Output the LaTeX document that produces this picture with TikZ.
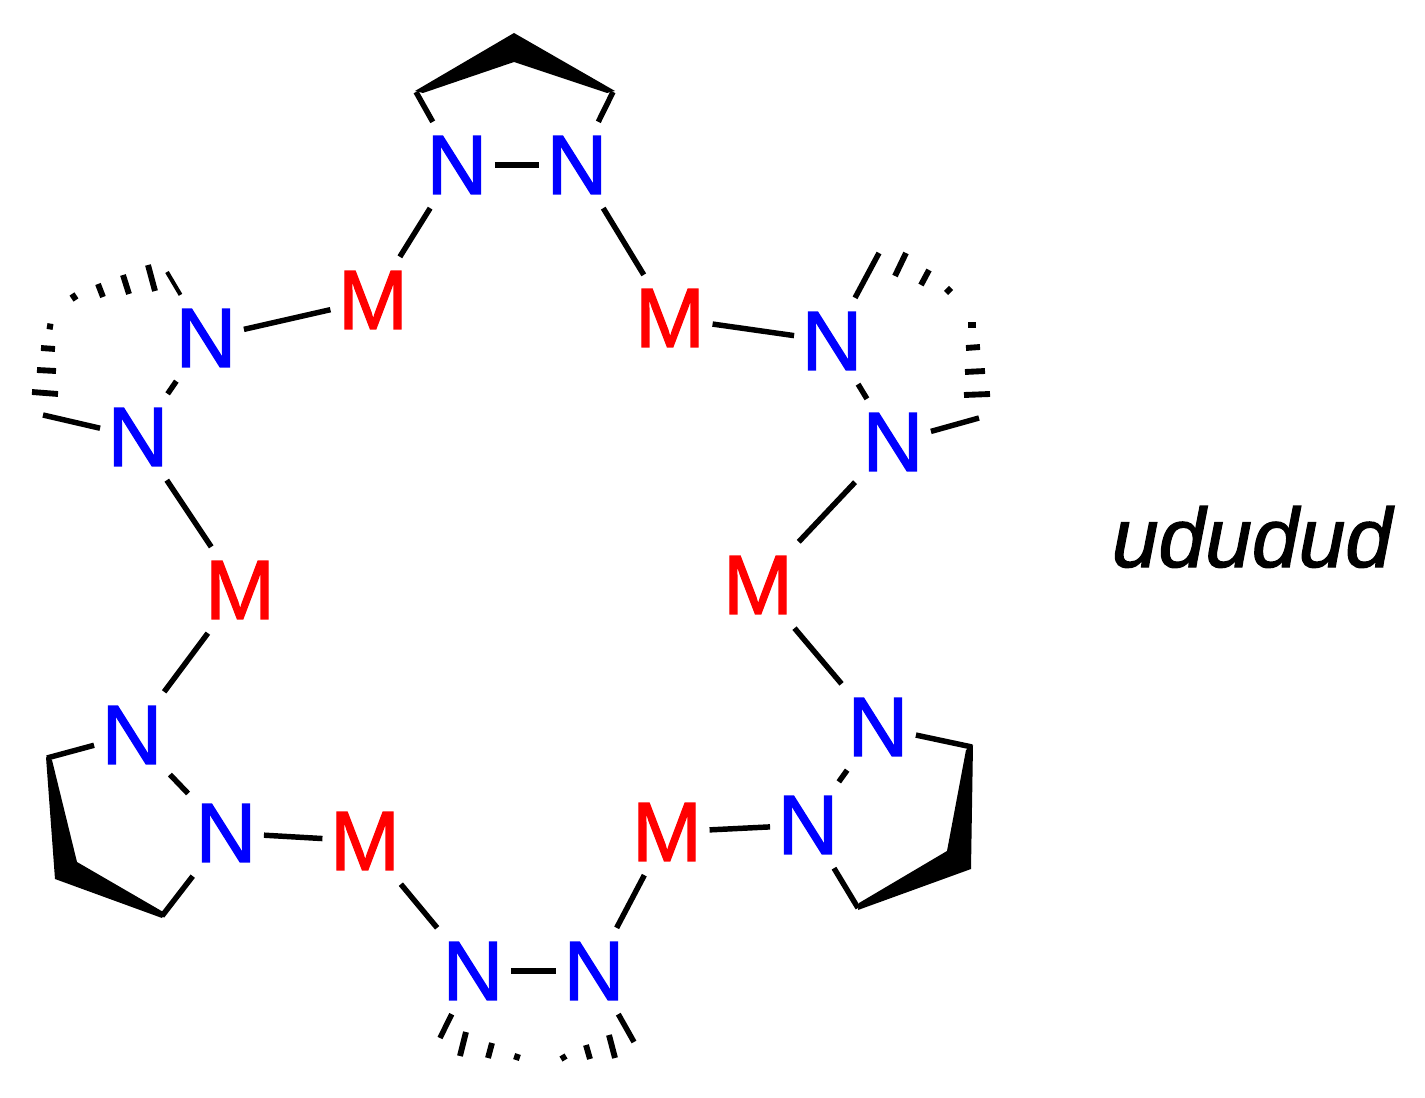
\documentclass[tikz,border=0pt]{standalone}
\usepackage{fontspec}
\setmainfont{Liberation Sans}
\newfontfamily\chemfont[FakeBold=1.5]{Liberation Sans}
\tikzset{
  atomlabel/.style={inner xsep=5.5pt,inner ysep=10.5pt,font=\chemfont\fontsize{63}{70}\selectfont},
  metal/.style={atomlabel,text={rgb,255:red,255;green,0;blue,0}},
  nitrogen/.style={atomlabel,text={rgb,255:red,0;green,0;blue,255}},
  bond/.style={line width=4.1pt},
  hashbar/.style={line width=4.4pt},
  wedgebond/.style={fill=black}
}
\begin{document}
\begin{tikzpicture}[x=0.75pt,y=0.75pt,yscale=-1,xscale=1]
        \useasboundingbox (0,0) rectangle (1425,1098);
        % Metal labels
        \node [metal] (mTL) at (373,300) {M};
        \node [metal] (mTR) at (670,318) {M};
        \node [metal] (mL) at (240,590) {M};
        \node [metal] (mR) at (758,585) {M};
        \node [metal] (mBL) at (365,841) {M};
        \node [metal] (mBR) at (667,832) {M};
        % Nitrogen labels
        \node [nitrogen] (nTa) at (457,165) {N};
        \node [nitrogen] (nTb) at (577,165) {N};
        \node [nitrogen] (nRUa) at (832,341) {N};
        \node [nitrogen] (nRUb) at (893,442) {N};
        \node [nitrogen] (nRLa) at (878,727) {N};
        \node [nitrogen] (nRLb) at (808,825) {N};
        \node [nitrogen] (nBa) at (473,971) {N};
        \node [nitrogen] (nBb) at (594,971) {N};
        \node [nitrogen] (nLLa) at (132,735) {N};
        \node [nitrogen] (nLLb) at (226,833) {N};
        \node [nitrogen] (nLUa) at (206,338) {N};
        \node [nitrogen] (nLUb) at (138,437) {N};
        % Sequence label
        \node [font=\chemfont\fontsize{63}{70}\selectfont\itshape] (seqlabel) at (1252,537) {ududud};
        % Ring carbons
        \coordinate (cTa) at (416,92);
        \coordinate (cTb) at (514,37);
        \coordinate (cTc) at (613,92);
        \coordinate (cRUa) at (879,253);
        \coordinate (cRUb) at (979,418);
        \coordinate (cRLa) at (972,747);
        \coordinate (cRLb) at (858,908);
        \coordinate (cBa) at (440,1038);
        \coordinate (cBb) at (634,1042);
        \coordinate (cLLa) at (47,758);
        \coordinate (cLLb) at (162,916);
        \coordinate (cLUa) at (167,272);
        \coordinate (cLUb) at (43,415);
        % Metal to nitrogen bonds
        \draw [bond] (mTL) -- (nTa);
        \draw [bond] (nTb) -- (mTR);
        \draw [bond] (mTR) -- (nRUa);
        \draw [bond] (nRUb) -- (mR);
        \draw [bond] (mR) -- (nRLa);
        \draw [bond] (nRLb) -- (mBR);
        \draw [bond] (mBR) -- (nBb);
        \draw [bond] (nBa) -- (mBL);
        \draw [bond] (mBL) -- (nLLb);
        \draw [bond] (nLLa) -- (mL);
        \draw [bond] (mL) -- (nLUb);
        \draw [bond] (nLUa) -- (mTL);
        % Nitrogen to nitrogen bonds
        \draw [bond] (nTa) -- (nTb);
        \draw [bond] (nRUa) -- (nRUb);
        \draw [bond] (nRLa) -- (nRLb);
        \draw [bond] (nBa) -- (nBb);
        \draw [bond] (nLLa) -- (nLLb);
        \draw [bond] (nLUa) -- (nLUb);
        % Ring bonds
        \draw [bond] (nTa) -- (cTa);
        \draw [bond] (nTb) -- (cTc);
        \draw [bond] (nRUa) -- (cRUa);
        \draw [bond] (nRUb) -- (cRUb);
        \draw [bond] (nRLa) -- (cRLa);
        \draw [bond] (nRLb) -- (cRLb);
        \draw [bond] (nBa) -- (cBa);
        \draw [bond] (nBb) -- (cBb);
        \draw [bond] (nLLa) -- (cLLa);
        \draw [bond] (nLLb) -- (cLLb);
        \draw [bond,line width=3pt] (nLUa) -- (cLUa);
        \draw [bond] (nLUb) -- (cLUb);
        % Wedges
        \fill [wedgebond] (415,91) -- (514,33) -- (615,91) -- (607,93) -- (514,62) -- (423,93) -- cycle;
        \fill [wedgebond] (46,757) -- (55,879) -- (162,918) -- (165,913) -- (77,862) -- (52,760) -- cycle;
        \fill [wedgebond] (973,745) -- (971,869) -- (858,910) -- (859,903) -- (947,851) -- (966,750) -- cycle;
        % Hashed bonds
        \foreach \xa/\ya/\xb/\yb in {32/392/58/394,37/370/56/371,41/348/55/349,47/326/53/327,
            72/294/76/300,98/284/103/297,123/275/129/294,148/265/155/291,
            895/276/906/253,921/285/929/270,946/293/951/288,
            968/325/976/325,966/348/980/347,965/372/985/371,964/395/990/394,
            466/1032/460/1056,492/1043/488/1058,518/1054/516/1060,
            562/1055/565/1060,586/1045/590/1059,609/1035/615/1058}
            \draw [hashbar] (\xa,\ya) -- (\xb,\yb);
\end{tikzpicture}
\end{document}
